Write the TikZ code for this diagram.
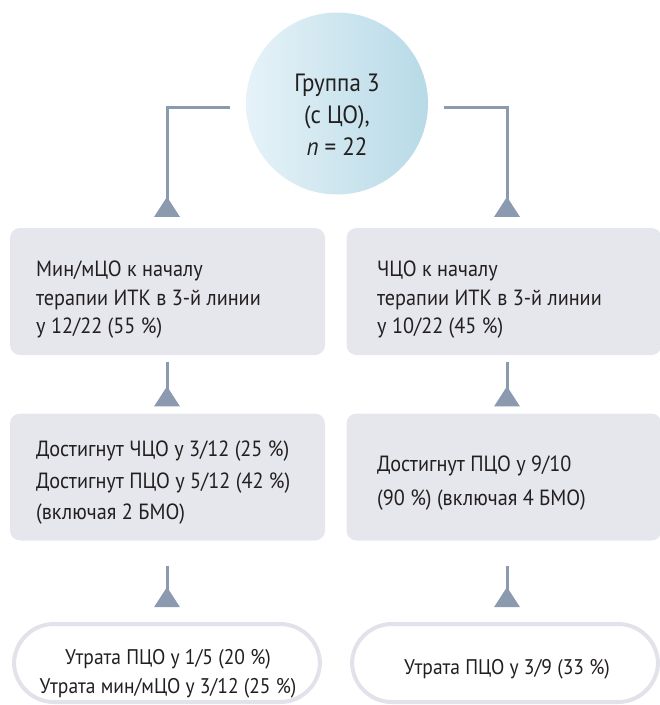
\documentclass[tikz,border=0pt]{standalone}
\usepackage{fontspec}
\setmainfont{PT Sans}[FakeStretch=0.92]
\usetikzlibrary{arrows.meta,calc}
\definecolor{boxgray}{HTML}{E6E7EC}
\definecolor{pillgray}{HTML}{E2E3EA}
\definecolor{arrowc}{HTML}{8B9AAE}
\definecolor{txt}{HTML}{231F20}
\definecolor{circL}{HTML}{E6F2F8}
\definecolor{circR}{HTML}{B7DAE7}
\tikzset{
  box/.style={fill=boxgray, rounded corners=10pt, minimum width=315pt, minimum height=127pt,
    inner sep=0pt},
  pill/.style={draw=pillgray, line width=4pt, fill=white, rounded corners=40pt,
    minimum width=306pt, minimum height=78pt, inner sep=0pt},
  lbl/.style={inner sep=0pt, text=txt, font=\fontsize{22}{26}\selectfont},
  plbl/.style={inner sep=0pt, text=txt, font=\fontsize{21.2}{26}\selectfont},
  clbl/.style={inner sep=0pt, text=txt, font=\fontsize{25}{30}\selectfont},
  conn/.style={draw=arrowc, line width=3pt,
    -{Triangle[reversed, width=25pt, length=20pt]}},
}
\begin{document}
\begin{tikzpicture}[x=1pt,y=-1pt]
\useasboundingbox (0,0) rectangle (660,705);
% circle
\node[circle, minimum size=182pt, inner sep=0pt, left color=circL, right color=circR] (circ) at (337,103.5) {};
\node[clbl, anchor=base] (c1) at (337,91) {Группа 3};
\node[clbl, anchor=base] (c2) at (337,123) {(с ЦО),};
\node[clbl, anchor=base] (c3) at (337,155) {\textit{n} = 22};
% top boxes
\node[box] (tl) at (167.5,291.5) {};
\node[box] (tr) at (504,291.5) {};
\node[lbl, anchor=base west] (tl1) at (36,276) {Мин/мЦО к началу};
\node[lbl, anchor=base west] (tl2) at (36,305) {терапии ИТК в 3-й линии};
\node[lbl, anchor=base west] (tl3) at (36,333) {у 12/22 (55~\%)};
\node[lbl, anchor=base west] (tr1) at (377,276) {ЧЦО к началу};
\node[lbl, anchor=base west] (tr2) at (377,305) {терапии ИТК в 3-й линии};
\node[lbl, anchor=base west] (tr3) at (377,333) {у 10/22 (45~\%)};
% middle boxes
\node[box] (ml) at (167.5,477) {};
\node[box] (mr) at (504,477) {};
\node[lbl, anchor=base west] (ml1) at (36,456) {Достигнут ЧЦО у 3/12 (25~\%)};
\node[lbl, anchor=base west] (ml2) at (36,488) {Достигнут ПЦО у 5/12 (42~\%)};
\node[lbl, anchor=base west] (ml3) at (36,519) {(включая 2 БМО)};
\node[lbl, anchor=base west] (mr1) at (377,471) {Достигнут ПЦО у 9/10};
\node[lbl, anchor=base west] (mr2) at (377,505) {(90~\%) (включая 4 БМО)};
% bottom pills
\node[pill] (bl) at (167,663) {};
\node[pill] (br) at (505,663) {};
\node[plbl, anchor=base] (bl1) at (168,664) {Утрата ПЦО у 1/5 (20~\%)};
\node[plbl, anchor=base] (bl2) at (168,693) {Утрата мин/мЦО у 3/12 (25~\%)};
\node[plbl, anchor=base] (br1) at (507,674) {Утрата ПЦО у 3/9 (33~\%)};
% connectors
\coordinate (cl) at ($(circ.center)+(-107,3.5)$);
\coordinate (cr) at ($(circ.center)+(107,3.5)$);
\path[conn, shorten >=11pt] (cl) -| (tl.north -| 167,0);
\path[conn, shorten >=11pt] (cr) -| (tr.north -| 507,0);
\coordinate (tlb) at ($(tl.south -| 167,0)+(0,7)$);
\coordinate (trb) at ($(tr.south -| 507,0)+(0,7)$);
\path[conn, shorten >=7pt] (tlb) -- (ml.north -| 167,0);
\path[conn, shorten >=7pt] (trb) -- (mr.north -| 507,0);
\coordinate (mlb) at ($(ml.south -| 167,0)+(0,25)$);
\coordinate (mrb) at ($(mr.south -| 507,0)+(0,25)$);
\path[conn, shorten >=15pt] (mlb) -- (bl.north -| 167,0);
\path[conn, shorten >=15pt] (mrb) -- (br.north -| 507,0);
\end{tikzpicture}
\end{document}
